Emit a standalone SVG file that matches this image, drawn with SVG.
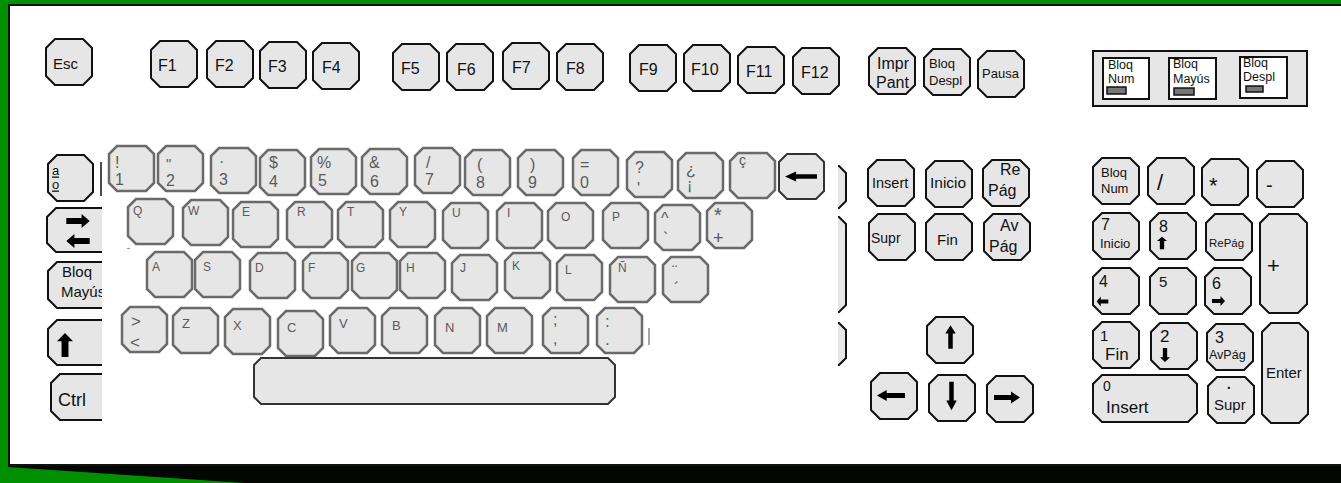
<svg xmlns="http://www.w3.org/2000/svg" width="1341" height="483" viewBox="0 0 1341 483">
<style>
.kb{fill:#e6e6e6;stroke:#111;stroke-width:2;stroke-linejoin:miter}
.kg{fill:#e6e6e6;stroke:#6a6a6a;stroke-width:2.5}
.kd{fill:#e6e6e6;stroke:#333;stroke-width:2}
.t{font-family:"Liberation Sans",Arial,sans-serif;fill:#111;font-size:15px}
.g{font-family:"Liberation Sans",Arial,sans-serif;fill:#5a5a5a;font-size:12px}
.s{font-size:16px}
.ar{fill:#000}
</style>
<defs>
<path id="kbp" d="M9,0H37L46,9V37L37,46H9L0,37V9Z"/>
<path id="kgp" d="M8,0H37L45,8V37L37,45H8L0,37V8Z"/>
<path id="arr" d="M-13,-3H4V-7L13,0L4,7V3H-13Z"/>
<clipPath id="leftclip"><rect x="0" y="0" width="102" height="483"/></clipPath>
</defs>

<g id="frame">
<rect x="0" y="0" width="1341" height="483" fill="#008f00"/>
<polygon points="8,465 1341,465 1341,483 245,483 8,467" fill="#030603"/>
<rect x="9" y="5" width="1340" height="460" fill="#fff" stroke="#111" stroke-width="2"/>
</g>

<g id="connectors"/>

<!-- Top row -->
<g id="key-esc"><use href="#kbp" x="46" y="39" class="kb"/><text class="t" x="53" y="69">Esc</text></g>
<g id="key-f1"><use href="#kbp" x="151" y="41" class="kb"/><text class="t s" x="158" y="71">F1</text></g>
<g id="key-f2"><use href="#kbp" x="207" y="41" class="kb"/><text class="t s" x="215" y="71">F2</text></g>
<g id="key-f3"><use href="#kbp" x="260" y="42" class="kb"/><text class="t s" x="268" y="72">F3</text></g>
<g id="key-f4"><use href="#kbp" x="313" y="43" class="kb"/><text class="t s" x="322" y="73">F4</text></g>
<g id="key-f5"><use href="#kbp" x="393" y="44" class="kb"/><text class="t s" x="401" y="74">F5</text></g>
<g id="key-f6"><use href="#kbp" x="447" y="44" class="kb"/><text class="t s" x="457" y="75">F6</text></g>
<g id="key-f7"><use href="#kbp" x="503" y="43" class="kb"/><text class="t s" x="512" y="73">F7</text></g>
<g id="key-f8"><use href="#kbp" x="557" y="44" class="kb"/><text class="t s" x="566" y="74">F8</text></g>
<g id="key-f9"><use href="#kbp" x="630" y="45" class="kb"/><text class="t s" x="639" y="75">F9</text></g>
<g id="key-f10"><use href="#kbp" x="684" y="45" class="kb"/><text class="t s" x="691" y="75">F10</text></g>
<g id="key-f11"><use href="#kbp" x="738" y="47" class="kb"/><text class="t s" x="746" y="77">F11</text></g>
<g id="key-f12"><use href="#kbp" x="793" y="48" class="kb"/><text class="t s" x="801" y="78">F12</text></g>
<g id="key-impr"><use href="#kbp" x="869" y="48" class="kb"/><text class="t s" x="877" y="69">Impr</text><text class="t s" x="876" y="88">Pant</text></g>
<g id="key-bloqdespl"><use href="#kbp" x="924" y="49" class="kb"/><text class="t" style="font-size:13px" x="929" y="68">Bloq</text><text class="t" style="font-size:13px" x="929" y="85">Despl</text></g>
<g id="key-pausa"><use href="#kbp" x="978" y="51" class="kb"/><text class="t" style="font-size:13px" x="982" y="78">Pausa</text></g>

<!-- Indicators -->
<g id="indicators">
<rect x="1093" y="51" width="214" height="55" fill="#e6e6e6" stroke="#111" stroke-width="2"/>
<rect x="1103" y="58" width="46" height="41" fill="#fff" stroke="#111" stroke-width="2"/>
<text class="t" style="font-size:12.5px" x="1108" y="69">Bloq</text><text class="t" style="font-size:12.5px" x="1108" y="83">Num</text>
<rect x="1107" y="87" width="19" height="7" fill="#777" stroke="#111" stroke-width="1.5"/>
<rect x="1169" y="58" width="47" height="41" fill="#fff" stroke="#111" stroke-width="2"/>
<text class="t" style="font-size:12.5px" x="1173" y="68">Bloq</text><text class="t" style="font-size:12.5px" x="1173" y="83">Mayús</text>
<rect x="1174" y="88" width="20" height="7" fill="#777" stroke="#111" stroke-width="1.5"/>
<rect x="1240" y="57" width="47" height="41" fill="#fff" stroke="#111" stroke-width="2"/>
<text class="t" style="font-size:12.5px" x="1243" y="67">Bloq</text><text class="t" style="font-size:12.5px" x="1243" y="81">Despl</text>
<rect x="1246" y="86" width="17" height="6" fill="#777" stroke="#111" stroke-width="1.5"/>
</g>

<!-- Left fragments of original keys -->
<g id="key-ordinal"><path class="kb" d="M57,155H84L93,164V192L84,201H57L48,192V164Z"/>
<text class="t" style="font-size:13px" x="52" y="175">a</text><rect x="52" y="176.5" width="7" height="1.3" fill="#111"/>
<text class="t" style="font-size:13px" x="52" y="189">o</text><rect x="52" y="190.5" width="7" height="1.3" fill="#111"/></g>
<g id="key-tab" clip-path="url(#leftclip)"><path class="kb" d="M56,208H121L130,217V243L121,252H56L47,243V217Z"/>
<use href="#arr" class="ar" transform="translate(78,221) scale(0.9,1)"/>
<use href="#arr" class="ar" transform="translate(78,241) rotate(180) scale(0.9,1)"/></g>
<g id="key-bloqmayus" clip-path="url(#leftclip)"><path class="kb" d="M57,262H121L130,271V299L121,308H57L48,299V271Z"/>
<text class="t" x="62" y="277">Bloq</text><text class="t" x="61" y="297">Mayús</text></g>
<g id="key-shift" clip-path="url(#leftclip)"><path class="kb" d="M57,320H121L130,329V356L121,365H57L48,356V329Z"/>
<use href="#arr" class="ar" transform="translate(65,345) rotate(-90) scale(0.92,1.15)"/></g>
<g id="key-ctrl" clip-path="url(#leftclip)"><path class="kb" d="M60,374H121L130,383V411L121,420H60L51,411V383Z"/>
<text class="t" style="font-size:18px" x="58" y="406">Ctrl</text></g>
<g id="key-hidden-1"><line x1="101" y1="162" x2="101" y2="196" stroke="#111" stroke-width="1.5"/></g>

<!-- Right fragments -->
<g id="key-frag-r1"><path class="kb" d="M807,166H839L846,173V201L839,208H807L800,201V173Z"/></g>
<g id="key-frag-enter"><path class="kb" d="M807,217H839L846,224V305L839,312H807L800,305V224Z"/></g>
<g id="key-frag-rshift"><path class="kb" d="M807,323H839L846,330V358L839,365H807L800,358V330Z"/></g>

<rect id="cover" x="103" y="140" width="735" height="305" fill="#fff"/>
<g id="artifacts"><line x1="127" y1="248.5" x2="130" y2="248.5" stroke="#999" stroke-width="1"/><line x1="649" y1="328" x2="649" y2="345" stroke="#888" stroke-width="1.5"/></g>

<!-- Main block row 1 -->
<g id="key-1"><use href="#kgp" x="109" y="146" class="kg"/><text class="g s" x="115" y="168">!</text><text class="g s" x="115" y="185">1</text></g>
<g id="key-2"><use href="#kgp" x="158" y="146" class="kg"/><text class="g" style="font-size:15px" x="166" y="169">"</text><text class="g s" x="166" y="186">2</text></g>
<g id="key-3"><use href="#kgp" x="211" y="148" class="kg"/><text class="g s" x="219" y="167">·</text><text class="g s" x="219" y="185">3</text></g>
<g id="key-4"><use href="#kgp" x="260" y="150" class="kg"/><text class="g s" x="269" y="168">$</text><text class="g s" x="269" y="187">4</text></g>
<g id="key-5"><use href="#kgp" x="311" y="149" class="kg"/><text class="g s" x="317" y="168">%</text><text class="g s" x="318" y="186">5</text></g>
<g id="key-6"><use href="#kgp" x="362" y="149" class="kg"/><text class="g s" x="369" y="168">&amp;</text><text class="g s" x="370" y="187">6</text></g>
<g id="key-7"><use href="#kgp" x="415" y="148" class="kg"/><text class="g s" x="426" y="168">/</text><text class="g s" x="425" y="185">7</text></g>
<g id="key-8"><use href="#kgp" x="465" y="150" class="kg"/><text class="g s" x="477" y="170">(</text><text class="g s" x="476" y="188">8</text></g>
<g id="key-9"><use href="#kgp" x="518" y="150" class="kg"/><text class="g s" x="530" y="170">)</text><text class="g s" x="528" y="188">9</text></g>
<g id="key-0"><use href="#kgp" x="573" y="150" class="kg"/><text class="g s" x="580" y="170">=</text><text class="g s" x="580" y="188">0</text></g>
<g id="key-quest"><use href="#kgp" x="627" y="152" class="kg"/><text class="g s" x="635" y="173">?</text><text class="g s" x="637" y="194">'</text></g>
<g id="key-excl"><use href="#kgp" x="678" y="153" class="kg"/><text class="g s" x="686" y="175">¿</text><text class="g s" x="687" y="190">¡</text></g>
<g id="key-cced"><use href="#kgp" x="730" y="153" class="kg"/><text class="g" style="font-size:14px" x="739" y="165">ç</text></g>
<g id="key-backspace"><use href="#kgp" x="779" y="154" class="kd"/><use href="#arr" class="ar" transform="translate(801,176.5) rotate(180) scale(1.23,0.72)"/></g>

<!-- Row 2 -->
<g id="key-q"><use href="#kgp" x="128" y="199" class="kg"/><text class="g" x="133" y="215">Q</text></g>
<g id="key-w"><use href="#kgp" x="183" y="200" class="kg"/><text class="g" x="188" y="215">W</text></g>
<g id="key-e"><use href="#kgp" x="233" y="202" class="kg"/><text class="g" x="242" y="216">E</text></g>
<g id="key-r"><use href="#kgp" x="287" y="202" class="kg"/><text class="g" x="297" y="216">R</text></g>
<g id="key-t"><use href="#kgp" x="338" y="202" class="kg"/><text class="g" x="347" y="216">T</text></g>
<g id="key-y"><use href="#kgp" x="390" y="202" class="kg"/><text class="g" x="399" y="216">Y</text></g>
<g id="key-u"><use href="#kgp" x="443" y="203" class="kg"/><text class="g" x="452" y="217">U</text></g>
<g id="key-i"><use href="#kgp" x="497" y="203" class="kg"/><text class="g" x="507" y="217">I</text></g>
<g id="key-o"><use href="#kgp" x="548" y="203" class="kg"/><text class="g" x="561" y="221">O</text></g>
<g id="key-p"><use href="#kgp" x="603" y="203" class="kg"/><text class="g" x="612" y="221">P</text></g>
<g id="key-circ"><use href="#kgp" x="655" y="205" class="kg"/><text class="g s" x="661" y="224">^</text><text class="g s" x="663" y="244">`</text></g>
<g id="key-plus"><use href="#kgp" x="707" y="203" class="kg"/><text class="g" style="font-size:20px" x="714" y="222">*</text><text class="g" style="font-size:18px" x="713" y="244">+</text></g>

<!-- Row 3 -->
<g id="key-a"><use href="#kgp" x="147" y="252" class="kg"/><text class="g" x="152" y="271">A</text></g>
<g id="key-s"><use href="#kgp" x="195" y="252" class="kg"/><text class="g" x="203" y="271">S</text></g>
<g id="key-d"><use href="#kgp" x="250" y="253" class="kg"/><text class="g" x="255" y="272">D</text></g>
<g id="key-f"><use href="#kgp" x="303" y="253" class="kg"/><text class="g" x="308" y="272">F</text></g>
<g id="key-g"><use href="#kgp" x="352" y="253" class="kg"/><text class="g" x="356" y="272">G</text></g>
<g id="key-h"><use href="#kgp" x="400" y="253" class="kg"/><text class="g" x="406" y="272">H</text></g>
<g id="key-j"><use href="#kgp" x="452" y="255" class="kg"/><text class="g" x="460" y="272">J</text></g>
<g id="key-k"><use href="#kgp" x="505" y="253" class="kg"/><text class="g" x="512" y="270">K</text></g>
<g id="key-l"><use href="#kgp" x="557" y="255" class="kg"/><text class="g" x="565" y="274">L</text></g>
<g id="key-ntilde"><use href="#kgp" x="610" y="257" class="kg"/><text class="g" x="618" y="272">Ñ</text></g>
<g id="key-diaer"><use href="#kgp" x="663" y="257" class="kg"/><text class="g s" x="672" y="277">¨</text><text class="g s" x="674" y="294">´</text></g>

<!-- Row 4 -->
<g id="key-lt"><use href="#kgp" x="122" y="307" class="kg"/><text class="g" style="font-size:17px" x="131" y="327">&gt;</text><text class="g" style="font-size:17px" x="130" y="348">&lt;</text></g>
<g id="key-z"><use href="#kgp" x="173" y="308" class="kg"/><text class="g" style="font-size:13px" x="182" y="328">Z</text></g>
<g id="key-x"><use href="#kgp" x="225" y="309" class="kg"/><text class="g" style="font-size:13px" x="233" y="330">X</text></g>
<g id="key-c"><use href="#kgp" x="278" y="311" class="kg"/><text class="g" style="font-size:13px" x="287" y="332">C</text></g>
<g id="key-v"><use href="#kgp" x="330" y="308" class="kg"/><text class="g" style="font-size:13px" x="339" y="328">V</text></g>
<g id="key-b"><use href="#kgp" x="382" y="308" class="kg"/><text class="g" style="font-size:13px" x="392" y="330">B</text></g>
<g id="key-n"><use href="#kgp" x="435" y="308" class="kg"/><text class="g" style="font-size:13px" x="445" y="332">N</text></g>
<g id="key-m"><use href="#kgp" x="487" y="308" class="kg"/><text class="g" style="font-size:13px" x="497" y="332">M</text></g>
<g id="key-comma"><use href="#kgp" x="543" y="308" class="kg"/><text class="g s" x="553" y="325">;</text><text class="g s" x="553" y="344">,</text></g>
<g id="key-period"><use href="#kgp" x="597" y="308" class="kg"/><text class="g" style="font-size:17px" x="605" y="327">:</text><text class="g" style="font-size:17px" x="605" y="345">.</text></g>
<g id="key-space"><path class="kd" d="M261,358H608L615,365V397L608,404H261L254,397V365Z"/></g>

<!-- Navigation -->
<g id="key-insert"><use href="#kbp" x="868" y="160" class="kb"/><text class="t" style="font-size:14.5px" x="872" y="188">Insert</text></g>
<g id="key-inicio"><use href="#kbp" x="926" y="161" class="kb"/><text class="t" style="font-size:15.5px" x="930" y="188">Inicio</text></g>
<g id="key-repag"><use href="#kbp" x="983" y="160" class="kb"/><text class="t s" x="1000" y="175">Re</text><text class="t s" x="988" y="196">Pág</text></g>
<g id="key-supr"><use href="#kbp" x="869" y="214" class="kb"/><text class="t" style="font-size:14px" x="871" y="243">Supr</text></g>
<g id="key-fin"><use href="#kbp" x="926" y="214" class="kb"/><text class="t" x="937" y="245">Fin</text></g>
<g id="key-avpag"><use href="#kbp" x="984" y="214" class="kb"/><text class="t s" x="1000" y="231">Av</text><text class="t s" x="989" y="252">Pág</text></g>
<g id="key-up"><use href="#kbp" x="927" y="317" class="kb"/><use href="#arr" class="ar" transform="translate(950.5,337) rotate(-90) scale(0.9,0.75)"/></g>
<g id="key-left"><use href="#kbp" x="871" y="373" class="kb"/><use href="#arr" class="ar" transform="translate(891,395.5) rotate(180) scale(1.08,0.8)"/></g>
<g id="key-down"><use href="#kbp" x="929" y="375" class="kb"/><use href="#arr" class="ar" transform="translate(951.5,396) rotate(90) scale(1.1,0.75)"/></g>
<g id="key-right"><use href="#kbp" x="987" y="376" class="kb"/><use href="#arr" class="ar" transform="translate(1007,397.5) scale(1,0.85)"/></g>

<!-- Numpad -->
<g id="key-bloqnum"><use href="#kbp" x="1093" y="158" class="kb"/><text class="t" style="font-size:13px" x="1101" y="177">Bloq</text><text class="t" style="font-size:13px" x="1101" y="193">Num</text></g>
<g id="key-div"><use href="#kbp" x="1148" y="158" class="kb"/><text class="t" style="font-size:22px" x="1157" y="190">/</text></g>
<g id="key-mul"><use href="#kbp" x="1202" y="159" class="kb"/><text class="t" style="font-size:22px" x="1209" y="193">*</text></g>
<g id="key-minus"><use href="#kbp" x="1257" y="161" class="kb"/><text class="t" style="font-size:20px" x="1266" y="192">-</text></g>
<g id="key-np7"><use href="#kbp" x="1093" y="213" class="kb"/><text class="t s" x="1101" y="230">7</text><text class="t" style="font-size:13px" x="1100" y="248">Inicio</text></g>
<g id="key-np8"><use href="#kbp" x="1150" y="213" class="kb"/><text class="t s" x="1159" y="232">8</text><use href="#arr" class="ar" transform="translate(1162,243) rotate(-90) scale(0.48,0.72)"/></g>
<g id="key-np9"><use href="#kbp" x="1206" y="214" class="kb"/><text class="t" style="font-size:11.5px" x="1209" y="247">RePág</text></g>
<g id="key-npplus"><path class="kb" d="M1269,214H1298L1307,223V304L1298,313H1269L1260,304V223Z"/><text class="t" style="font-size:22px" x="1267" y="273">+</text></g>
<g id="key-np4"><use href="#kbp" x="1093" y="268" class="kb"/><text class="t s" x="1099" y="287">4</text><use href="#arr" class="ar" transform="translate(1102.5,301.5) rotate(180) scale(0.45,0.7)"/></g>
<g id="key-np5"><use href="#kbp" x="1150" y="268" class="kb"/><text class="t" x="1159" y="287">5</text></g>
<g id="key-np6"><use href="#kbp" x="1205" y="268" class="kb"/><text class="t s" x="1212" y="289">6</text><use href="#arr" class="ar" transform="translate(1218.5,301) scale(0.5,0.7)"/></g>
<g id="key-np1"><use href="#kbp" x="1093" y="322" class="kb"/><text class="t" x="1100" y="341">1</text><text class="t" style="font-size:17px" x="1105" y="360">Fin</text></g>
<g id="key-np2"><use href="#kbp" x="1151" y="323" class="kb"/><text class="t" style="font-size:17px" x="1160" y="342">2</text><use href="#arr" class="ar" transform="translate(1165,355) rotate(90) scale(0.54,0.72)"/></g>
<g id="key-np3"><use href="#kbp" x="1207" y="324" class="kb"/><text class="t s" x="1215" y="343">3</text><text class="t" style="font-size:12.5px" x="1209" y="359">AvPág</text></g>
<g id="key-enter"><path class="kb" d="M1271,323H1299L1308,332V414L1299,423H1271L1262,414V332Z"/><text class="t" x="1266" y="378">Enter</text></g>
<g id="key-np0"><path class="kb" d="M1102,375H1188L1197,384V413L1188,422H1102L1093,413V384Z"/><text class="t" style="font-size:14px" x="1103" y="391">0</text><text class="t" style="font-size:17px" x="1106" y="413">Insert</text></g>
<g id="key-npdot"><use href="#kbp" x="1208" y="377" class="kb"/><text class="t" style="font-size:20px" x="1226" y="389">.</text><text class="t" x="1214" y="410">Supr</text></g>
</svg>
